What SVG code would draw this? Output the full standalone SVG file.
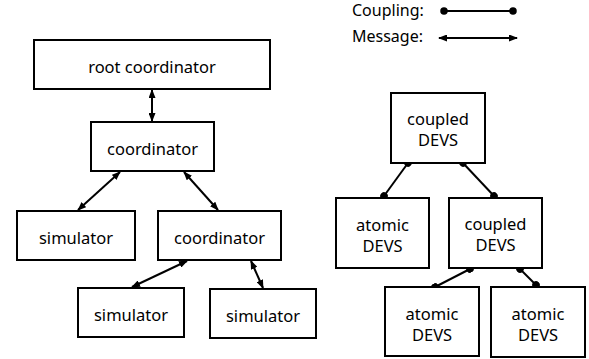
<svg xmlns="http://www.w3.org/2000/svg" width="589" height="359" viewBox="0 0 589 359">
<style>
.box{fill:#fff;stroke:#000;stroke-width:2}
.t{font-family:"Noto Sans","Open Sans",sans-serif;font-size:16.5px;fill:#000;text-anchor:middle}
.lg{font-family:"Noto Sans","Open Sans",sans-serif;font-size:16px;fill:#000}
.msg{stroke:#000;stroke-width:2;fill:none;marker-start:url(#ah);marker-end:url(#ah)}
.cpl{stroke:#000;stroke-width:2;fill:none;marker-start:url(#dot);marker-end:url(#dot)}
</style>
<defs>
<marker id="ah" viewBox="0 0 9 7" refX="8" refY="3.5" markerWidth="9" markerHeight="7" markerUnits="userSpaceOnUse" orient="auto-start-reverse">
<path d="M0,0 L9,3.5 L0,7 z" fill="#000"/>
</marker>
<marker id="dot" viewBox="0 0 8 8" refX="4" refY="4" markerWidth="7.5" markerHeight="7.5" markerUnits="userSpaceOnUse" orient="auto">
<circle cx="4" cy="4" r="4" fill="#000"/>
</marker>
</defs>
<g id="legend">
<text class="lg" x="352" y="16">Coupling:</text>
<text class="lg" x="352" y="41.5">Message:</text>
<line class="cpl" x1="444" y1="11" x2="513" y2="11"/>
<line class="msg" x1="439" y1="38" x2="517" y2="38"/>
</g>
<g id="connectors">
<line class="msg" x1="152" y1="90" x2="152" y2="121"/>
<line class="msg" x1="120" y1="172" x2="78" y2="210"/>
<line class="msg" x1="184" y1="172" x2="218" y2="210"/>
<line class="msg" x1="187" y1="261" x2="132" y2="287"/>
<line class="msg" x1="251" y1="261" x2="263" y2="288"/>
<line class="cpl" x1="408" y1="163" x2="384" y2="196"/>
<line class="cpl" x1="463" y1="163" x2="494" y2="196"/>
<line class="cpl" x1="470" y1="269" x2="435" y2="287"/>
<line class="cpl" x1="520" y1="269" x2="536" y2="285"/>
</g>
<g id="root"><rect class="box" x="34" y="40" width="236" height="49"/><text class="t" x="152" y="72.5">root coordinator</text></g>
<g id="coord1"><rect class="box" x="91" y="122" width="123" height="49"/><text class="t" x="152.5" y="154.5">coordinator</text></g>
<g id="sim1"><rect class="box" x="17" y="211" width="118" height="49"/><text class="t" x="76" y="243.5">simulator</text></g>
<g id="coord2"><rect class="box" x="158" y="211" width="123" height="49"/><text class="t" x="219.5" y="243.5">coordinator</text></g>
<g id="sim2"><rect class="box" x="78" y="288" width="106" height="49"/><text class="t" x="131" y="320.5">simulator</text></g>
<g id="sim3"><rect class="box" x="210" y="289" width="106" height="49"/><text class="t" x="263" y="321.5">simulator</text></g>
<g id="cdevs1"><rect class="box" x="391" y="93" width="94" height="70"/><text class="t" x="438" y="125">coupled</text><text class="t" x="438" y="146">DEVS</text></g>
<g id="adevs1"><rect class="box" x="336" y="198" width="93" height="70"/><text class="t" x="382.5" y="231">atomic</text><text class="t" x="382.5" y="252">DEVS</text></g>
<g id="cdevs2"><rect class="box" x="449" y="198" width="93" height="70"/><text class="t" x="495.5" y="230">coupled</text><text class="t" x="495.5" y="251">DEVS</text></g>
<g id="adevs2"><rect class="box" x="385" y="287" width="94" height="69"/><text class="t" x="432" y="320">atomic</text><text class="t" x="432" y="341">DEVS</text></g>
<g id="adevs3"><rect class="box" x="491" y="287" width="94" height="70"/><text class="t" x="538" y="320">atomic</text><text class="t" x="538" y="341">DEVS</text></g>
</svg>
